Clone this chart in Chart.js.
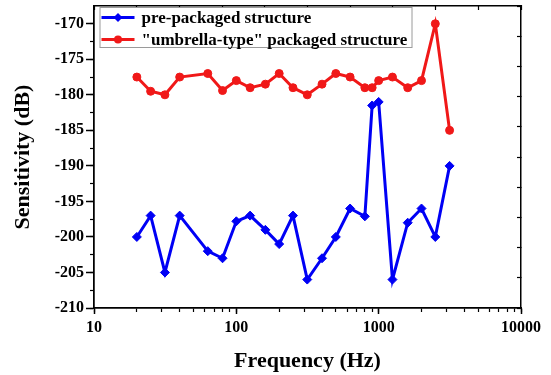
<!DOCTYPE html>
<html>
<head>
<meta charset="utf-8">
<script src="https://cdn.jsdelivr.net/npm/chart.js@4.4.0/dist/chart.umd.min.js"></script>
<style>
html, body { margin: 0; padding: 0; background: #fff; }
</style>
</head>
<body>
<canvas id="chart" width="551" height="375"></canvas>
<script>
const freqs = [20, 25, 31.5, 40, 63, 80, 100, 125, 160, 200, 250, 315, 400, 500, 630, 800, 900, 1000, 1250, 1600, 2000, 2500, 3150]
const prePackaged = [-200, -197, -205, -197, -202, -203, -197.8, -197, -199, -201, -197, -206, -203, -200, -196, -197.1, -181.5, -181, -206, -198, -196, -200, -190]
const umbrella = [-177.5, -179.5, -180, -177.5, -177, -179.4, -178, -179, -178.5, -177, -179, -180, -178.5, -177, -177.5, -179, -179, -178, -177.5, -179, -178, -170, -185]
const xTicks = [10, 100, 1000, 10000]
const yTicks = [-210, -205, -200, -195, -190, -185, -180, -175, -170]

const serif = "'Liberation Serif', 'Times New Roman', serif"
const tickFont = { family: serif, size: 16, weight: 'bold' }
const titleFont = { family: serif, size: 22, weight: 'bold' }

// minor tick positions (decoration only)
const xMinorTicks = []
for (let e = 10; e < 10000; e *= 10) {
    for (let k = 1; k < 10; k++) xMinorTicks.push(e * k)
}
xMinorTicks.push(10000)
const yMinorTicks = []
for (let v = -210; v <= -170; v += 2.5) yMinorTicks.push(v)
const tenths = [0, 1, 2, 3, 4, 5, 6, 7, 8, 9, 10]

const frame = { color: '#000', width: 1.5 }

// legend drawn inside the plot, top-left
const insideLegend = {
    id: 'insideLegend',
    afterDraw(chart) {
        const ctx = chart.ctx
        const a = chart.chartArea
        const x0 = a.left + 5.5
        const y0 = a.top + 1
        const w = 312
        const h = 40
        ctx.save()
        ctx.fillStyle = '#fff'
        ctx.fillRect(x0, y0, w, h)
        ctx.strokeStyle = '#9a9a9a'
        ctx.lineWidth = 1
        ctx.strokeRect(x0 + 0.5, y0 + 0.5, w, h)
        chart.data.datasets.forEach((ds, i) => {
            const cy = y0 + 10.5 + i * 22
            ctx.strokeStyle = ds.borderColor
            ctx.lineWidth = 3
            ctx.beginPath()
            ctx.moveTo(x0 + 2, cy)
            ctx.lineTo(x0 + 35, cy)
            ctx.stroke()
            const cx = x0 + 18.5
            ctx.fillStyle = ds.borderColor
            ctx.beginPath()
            if (ds.pointStyle === 'rectRot') {
                const r = 4.5
                ctx.moveTo(cx, cy - r)
                ctx.lineTo(cx + r, cy)
                ctx.lineTo(cx, cy + r)
                ctx.lineTo(cx - r, cy)
                ctx.closePath()
            } else {
                ctx.arc(cx, cy, 4, 0, Math.PI * 2)
            }
            ctx.fill()
            ctx.fillStyle = '#000'
            ctx.font = 'bold 17px ' + serif
            ctx.textBaseline = 'middle'
            ctx.textAlign = 'left'
            ctx.fillText(ds.label, x0 + 42, cy + 1)
        })
        ctx.restore()
    }
}

const ctx = document.getElementById('chart').getContext('2d')

const chart = new Chart(ctx, {
    type: 'line',
    data: {
        datasets: [{
            label: 'pre-packaged structure',
            data: freqs.map((f, i) => ({ x: f, y: prePackaged[i] })),
            borderColor: '#0000f5',
            backgroundColor: '#0000f5',
            borderWidth: 3,
            pointStyle: 'rectRot',
            pointRadius: 4.5,
            pointBorderWidth: 1,
            tension: 0
        }, {
            label: '"umbrella-type" packaged structure',
            data: freqs.map((f, i) => ({ x: f, y: umbrella[i] })),
            borderColor: '#f01818',
            backgroundColor: '#f01818',
            borderWidth: 3,
            pointStyle: 'circle',
            pointRadius: 4,
            pointBorderWidth: 1,
            tension: 0
        }]
    },
    options: {
        responsive: false,
        animation: false,
        layout: { padding: { top: 6, right: 30, left: 0, bottom: 0 } },
        plugins: {
            legend: { display: false },
            tooltip: { enabled: false }
        },
        scales: {
            x: {
                type: 'logarithmic',
                position: 'bottom',
                weight: 1,
                min: 10,
                max: 10000,
                afterBuildTicks: s => { s.ticks = xTicks.map(v => ({ value: v })) },
                afterFit: s => { s.height = 67; s.paddingLeft = 0 },
                ticks: {
                    font: tickFont,
                    color: '#000',
                    padding: 4,
                    maxRotation: 0,
                    autoSkip: false,
                    callback: v => String(v)
                },
                grid: { drawOnChartArea: false, tickLength: 6, tickColor: '#000', tickWidth: 1.5 },
                border: frame,
                title: { display: true, text: 'Frequency (Hz)', font: titleFont, color: '#000', padding: { top: 0, bottom: 0 } }
            },
            xMinor: {
                type: 'logarithmic',
                position: 'bottom',
                weight: 0,
                min: 10,
                max: 10000,
                afterBuildTicks: s => { s.ticks = xMinorTicks.map(v => ({ value: v })) },
                afterFit: s => { s.height = 0 },
                ticks: { display: false, autoSkip: false },
                grid: { drawOnChartArea: false, tickLength: 4, tickColor: '#000', tickWidth: 1.2 },
                border: frame
            },
            y: {
                type: 'linear',
                position: 'left',
                weight: 1,
                min: -210,
                max: -167.5,
                afterBuildTicks: s => { s.ticks = yTicks.map(v => ({ value: v })) },
                afterFit: s => { s.width = 94; s.paddingTop = 0; s.paddingBottom = 0 },
                ticks: { font: tickFont, color: '#000', padding: 2 },
                grid: { drawOnChartArea: false, tickLength: 8, tickColor: '#000', tickWidth: 1.5 },
                border: frame,
                title: { display: true, text: 'Sensitivity (dB)', font: titleFont, color: '#000', padding: { top: 10, bottom: 0 } }
            },
            yMinor: {
                type: 'linear',
                position: 'left',
                weight: 0,
                min: -210,
                max: -167.5,
                afterBuildTicks: s => { s.ticks = yMinorTicks.map(v => ({ value: v })) },
                afterFit: s => { s.width = 0 },
                ticks: { display: false },
                grid: { drawOnChartArea: false, tickLength: 4, tickColor: '#000', tickWidth: 1.2 },
                border: frame
            },
            xTop: {
                type: 'linear',
                position: 'top',
                min: 0,
                max: 10,
                afterBuildTicks: s => { s.ticks = tenths.map(v => ({ value: v })) },
                afterFit: s => { s.height = 0 },
                ticks: { display: false },
                grid: { drawOnChartArea: false, tickLength: -4, tickColor: '#000', tickWidth: 1.2 },
                border: frame
            },
            yRight: {
                type: 'linear',
                position: 'right',
                min: 0,
                max: 10,
                afterBuildTicks: s => { s.ticks = tenths.map(v => ({ value: v })) },
                afterFit: s => { s.width = 0 },
                ticks: { display: false },
                grid: { drawOnChartArea: false, tickLength: -4, tickColor: '#000', tickWidth: 1.2 },
                border: frame
            }
        }
    },
    plugins: [insideLegend]
})
</script>
</body>
</html>
